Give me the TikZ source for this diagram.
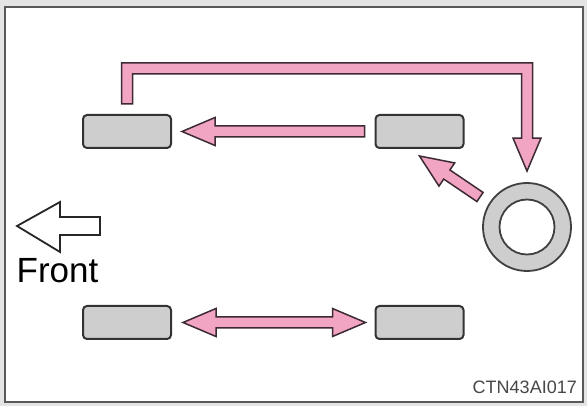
\documentclass[tikz,border=0pt]{standalone}
\usepackage{fontspec}
\setmainfont{Liberation Sans}
\usetikzlibrary{calc,positioning}

\definecolor{rotpink}{RGB}{242,164,195}
\definecolor{rotedge}{RGB}{60,42,52}
\definecolor{tiregray}{RGB}{206,206,206}
\definecolor{bggray}{RGB}{228,228,228}

\newcommand\headlen{33pt}
\newcommand\headhw{14pt}
\newcommand\shafthw{5.5pt}

% fat arrow, #1 tail, #2 tip
\newcommand\fatarrow[2]{%
  \coordinate (fab) at ($(#2)!\headlen!(#1)$);
  \draw[pinkarrow] ($(#1)!\shafthw!90:(#2)$) -- ($(fab)!\shafthw!-90:(#1)$)
    -- ($(fab)!\headhw!-90:(#1)$) -- (#2) -- ($(fab)!\headhw!90:(#1)$)
    -- ($(fab)!\shafthw!90:(#1)$) -- ($(#1)!\shafthw!-90:(#2)$) -- cycle;}

% fat arrow with two heads
\newcommand\fatdblarrow[2]{%
  \coordinate (faa) at ($(#1)!\headlen!(#2)$);
  \coordinate (fab) at ($(#2)!\headlen!(#1)$);
  \draw[pinkarrow] (#1) -- ($(faa)!\headhw!90:(#2)$) -- ($(faa)!\shafthw!90:(#2)$)
    -- ($(fab)!\shafthw!-90:(#1)$) -- ($(fab)!\headhw!-90:(#1)$) -- (#2)
    -- ($(fab)!\headhw!90:(#1)$) -- ($(fab)!\shafthw!90:(#1)$)
    -- ($(faa)!\shafthw!-90:(#2)$) -- ($(faa)!\headhw!-90:(#2)$) -- cycle;}

\begin{document}
\begin{tikzpicture}[
  x=1pt, y=-1pt,
  tirebox/.style={rectangle, rounded corners=4pt, draw=black!80, fill=tiregray,
                  line width=2pt, minimum width=88pt, minimum height=33pt, inner sep=0pt},
  ring/.style={circle, draw=black!75, fill=tiregray, line width=1.8pt, inner sep=0pt},
  ringhole/.style={circle, draw=black!75, fill=white, line width=1.8pt, inner sep=0pt},
  pinkarrow/.style={draw=rotedge, fill=rotpink, line width=1.5pt, line join=miter},
  frontarrow/.style={draw=black!85, fill=white, line width=1.8pt, line join=miter}
]
\useasboundingbox (0,0) rectangle (587,406);
\fill[bggray] (0,0) rectangle (587,406);
\draw[draw=black!65, fill=white, line width=2pt] (5,7) rectangle (583,402);

% tires
\node[tirebox] (fl) at (127,131.5) {};
\node[tirebox] (rl) at (419.5,131.5) {};
\node[tirebox] (fr) at (127,322.5) {};
\node[tirebox] (rr) at (419.5,322.5) {};

% spare
\node[ring, minimum size=88pt] (sp) at (527,227) {};
\node[ringhole, minimum size=55pt] (sphole) at (sp) {};

% rotation
\coordinate (bt) at ([yshift=10pt]fl.north);
\coordinate (bp) at ([yshift=11pt]sp.north);
\coordinate (bk) at (127,68.5);
\draw[pinkarrow] let \p1=(bt), \p2=(bp), \p3=(bk) in
  (\x1-\shafthw,\y1) -- (\x1-\shafthw,\y3+\shafthw) -- (\x2+\shafthw,\y3+\shafthw)
  -- (\x2+\shafthw,\y2+\headlen) -- (\x2+\headhw,\y2+\headlen) -- (\p2)
  -- (\x2-\headhw,\y2+\headlen) -- (\x2-\shafthw,\y2+\headlen)
  -- (\x2-\shafthw,\y3-\shafthw) -- (\x1+\shafthw,\y3-\shafthw)
  -- (\x1+\shafthw,\y1) -- cycle;

\coordinate (ta) at ([xshift=-10pt]rl.west);
\coordinate (tb) at ([xshift=10pt]fl.east);
\fatarrow{ta}{tb}

\coordinate (da) at ($(sp)+(-47,-30)$);
\coordinate (db) at ([yshift=-7pt]rl.south);
\fatarrow{da}{db}

\coordinate (ba) at ([xshift=11pt]fr.east);
\coordinate (bb) at ([xshift=-9pt]rr.west);
\fatdblarrow{ba}{bb}

% front
\draw[frontarrow] (17,226) -- (60,202) -- (60,217) -- (100,217) -- (100,235)
  -- (60,235) -- (60,252) -- cycle;
\node[anchor=base west, inner sep=0pt, font=\fontsize{35}{40}\selectfont] (fronttxt)
  at (16.5,283) {Front};

\node[anchor=base east, inner sep=0pt, text=black!72, font=\fontsize{18}{20}\selectfont]
  (code) at (577,393) {CTN43AI017};
\end{tikzpicture}
\end{document}
